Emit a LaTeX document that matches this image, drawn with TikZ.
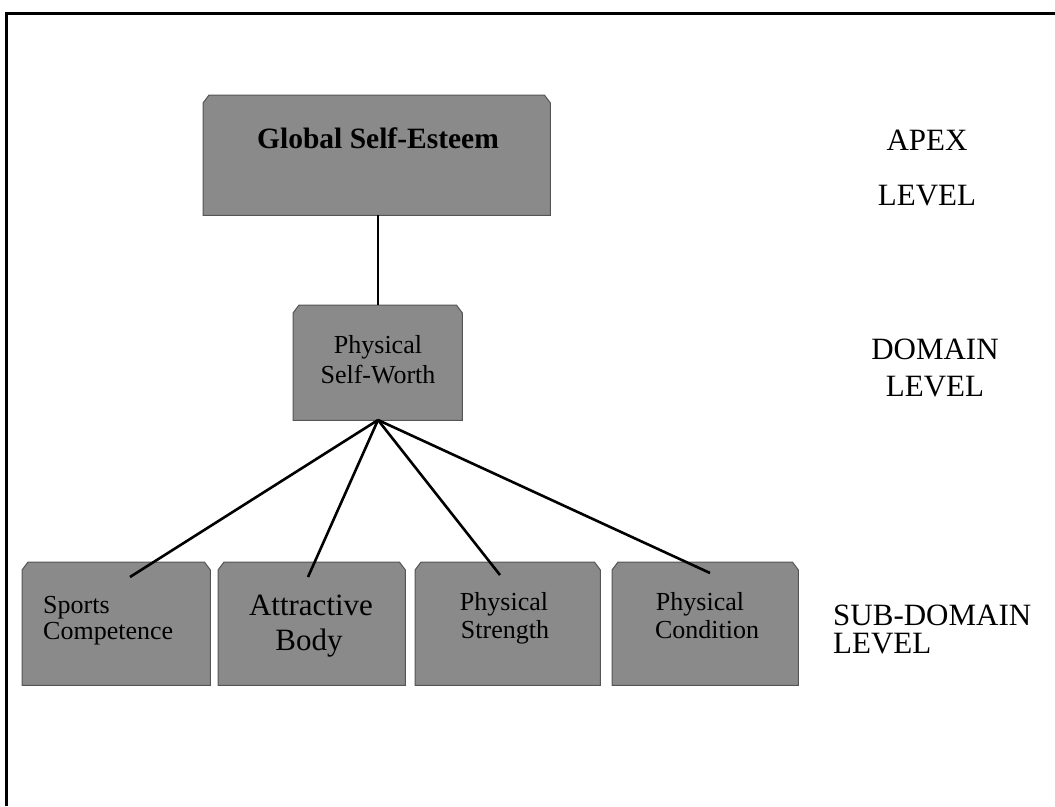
\documentclass[tikz,border=0pt]{standalone}
\usepackage{fontspec}
\setmainfont{Liberation Serif}
\begin{document}
\begin{tikzpicture}[x=1pt,y=-1pt,
  box/.style={rectangle, draw=none, inner sep=0pt, minimum width=#1, anchor=north west},
  boxfill/.style={fill={rgb,255:red,138;green,138;blue,138}, draw={rgb,255:red,85;green,85;blue,85}, line width=1pt},
  txt/.style={inner sep=0pt, anchor=base, font=\fontsize{#1}{#1}\selectfont},
  ltxt/.style={inner sep=0pt, anchor=base west, font=\fontsize{#1}{#1}\selectfont},
  link/.style={line width=2.6pt, black}]
\useasboundingbox (0,0) rectangle (1055,806);
\fill[white] (0,0) rectangle (1055,806);
% frame
\coordinate (fr1) at (1055,13);
\coordinate (fr2) at (6,13);
\coordinate (fr3) at (6,806);
\draw[line width=3pt] (fr1) -- (fr2) -- (fr3);
% boxes
\node[box=347pt, minimum height=120pt] (gse) at (203,95) {};
\node[box=169pt, minimum height=115pt] (psw) at (293,305) {};
\node[box=188pt, minimum height=123pt] (sc) at (22,562) {};
\node[box=187pt, minimum height=123pt] (ab) at (218,562) {};
\node[box=185pt, minimum height=123pt] (ps) at (415,562) {};
\node[box=186pt, minimum height=123pt] (pc) at (612,562) {};
\foreach \b in {gse,psw,sc,ab,ps,pc}{
  \path[boxfill] (\b.south west) -- ([yshift=-8pt]\b.north west) -- ([xshift=6pt]\b.north west)
    -- ([xshift=-6pt]\b.north east) -- ([yshift=-8pt]\b.north east) -- (\b.south east) -- cycle;
}
% texts
\node[txt=29.5, font=\fontsize{29.5}{29.5}\selectfont\bfseries] (t1) at (378,148) {Global Self-Esteem};
\node[txt=26] (t2a) at (378,353) {Physical};
\node[txt=26] (t2b) at (378,383) {Self-Worth};
\node[ltxt=26] (t3a) at (43,613) {Sports};
\node[ltxt=26] (t3b) at (43,639) {Competence};
\node[txt=31] (t4a) at (311,615) {Attractive};
\node[txt=31] (t4b) at (309,650) {Body};
\node[txt=26] (t5a) at (504,610) {Physical};
\node[txt=26] (t5b) at (505,638) {Strength};
\node[txt=26] (t6a) at (700,610) {Physical};
\node[txt=26] (t6b) at (707,638) {Condition};
% level labels
\node[txt=31] (l1a) at (927,150) {APEX};
\node[txt=31] (l1b) at (927,205) {LEVEL};
\node[txt=31] (l2a) at (935,359) {DOMAIN};
\node[txt=31] (l2b) at (935,396) {LEVEL};
\node[ltxt=31] (l3a) at (833,625) {SUB-DOMAIN};
\node[ltxt=31] (l3b) at (833,653) {LEVEL};
% connectors
\coordinate (top) at (378,215);
\coordinate (hub) at (378,420);
\coordinate (e1) at (130,577);
\coordinate (e2) at (308,577);
\coordinate (e3) at (500,575);
\coordinate (e4) at (710,573);
\draw[link] (gse.south -| top) -- (psw.north -| top);
\draw[link] (hub) -- (e1);
\draw[link] (hub) -- (e2);
\draw[link] (hub) -- (e3);
\draw[link] (hub) -- (e4);
\end{tikzpicture}
\end{document}
